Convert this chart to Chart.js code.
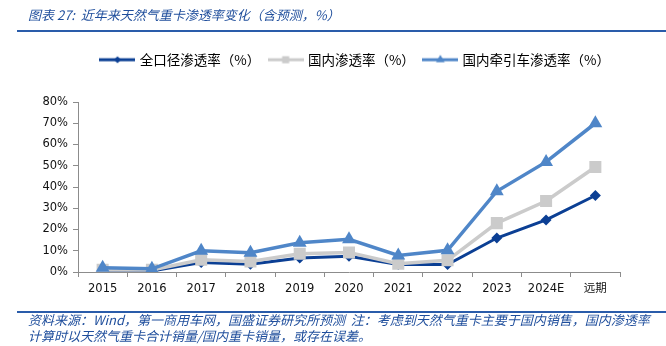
<!DOCTYPE html>
<html>
<head>
<meta charset="utf-8">
<script src="https://cdn.jsdelivr.net/npm/chart.js@4.4.1/dist/chart.umd.min.js"></script>
<style>
    html, body { margin: 0; padding: 0; background: #fff; }
    #wrap { position: relative; width: 666px; height: 346px; overflow: hidden; }
    #chart { position: absolute; left: 0; top: 0; }
    .title { position: absolute; left: 28px; top: 6px; font: italic 13px "Noto Sans CJK SC"; color: #1f4e9c; white-space: nowrap; line-height: 18px; }
    .rule { position: absolute; left: 17px; right: 0; height: 2px; background: #2a5caa; }
    .note { position: absolute; left: 28px; font: italic 13px "Noto Sans CJK SC"; color: #1f4e9c; white-space: nowrap; line-height: 16px; }
</style>
</head>
<body>
<div id="wrap">
    <canvas id="chart" width="666" height="346"></canvas>
    <div class="title">图表 27:&nbsp; 近年来天然气重卡渗透率变化（含预测，%）</div>
    <div class="rule" style="top:30px"></div>
    <div class="rule" style="top:311px"></div>
    <div class="note" style="top:312px">资料来源：Wind，第一商用车网，国盛证券研究所预测 &nbsp;注：考虑到天然气重卡主要于国内销售，国内渗透率</div>
    <div class="note" style="top:328px">计算时以天然气重卡合计销量/国内重卡销量，或存在误差。</div>
</div>
<script>
    // chart data (percent)
    const categories = ['2015', '2016', '2017', '2018', '2019', '2020', '2021', '2022', '2023', '2024E', '远期'];
    const allRate = [0.5, 0.5, 4.5, 3.6, 6.6, 7.4, 3.5, 3.5, 16, 24.5, 36];
    const domesticRate = [1, 1, 5.8, 4.9, 8.6, 9.2, 3.9, 5.5, 23, 33.4, 49.4];
    const tractorRate = [2, 1.5, 10, 9.1, 13.8, 15.4, 7.8, 10.2, 38, 51.8, 70];
    const seriesNames = ['全口径渗透率（%）', '国内渗透率（%）', '国内牵引车渗透率（%）'];

    const DARK = '#0b3f94';
    const GREY = '#cbcbcb';
    const BLUE = '#4f86c8';

    // small line + marker picture for each legend entry
    function legendIcon(color, style, radius) {
        const c = document.createElement('canvas');
        c.width = 36;
        c.height = 14;
        const ctx = c.getContext('2d');
        ctx.strokeStyle = color;
        ctx.lineWidth = 3;
        ctx.beginPath();
        ctx.moveTo(0, 7);
        ctx.lineTo(36, 7);
        ctx.stroke();
        ctx.fillStyle = color;
        Chart.helpers.drawPoint(ctx, {pointStyle: style, radius: radius, rotation: 0, borderWidth: 0}, 18, 7);
        return c;
    }
    const icons = [
        legendIcon(DARK, 'rectRot', 3.5),
        legendIcon(GREY, 'rect', 5),
        legendIcon(BLUE, 'triangle', 5)
    ];

    // keep the legend band a fixed height so the plot top lands where it should
    const legendBand = {
        id: 'legendBand',
        beforeLayout(chart) {
            const lg = chart.legend;
            if (lg && !lg._banded) {
                const fit = lg.fit;
                lg.fit = function () {
                    fit.call(this);
                    this.height = 59;
                };
                lg._banded = true;
            }
        }
    };

    new Chart(document.getElementById('chart'), {
        type: 'line',
        data: {
            labels: categories,
            datasets: [
                {
                    label: seriesNames[0],
                    data: allRate,
                    borderColor: DARK,
                    backgroundColor: DARK,
                    borderWidth: 3,
                    pointStyle: 'rectRot',
                    pointRadius: 5.5,
                    pointBorderWidth: 0,
                    order: 3
                },
                {
                    label: seriesNames[1],
                    data: domesticRate,
                    borderColor: GREY,
                    backgroundColor: GREY,
                    borderWidth: 3.5,
                    pointStyle: 'rect',
                    pointRadius: 8.5,
                    pointBorderWidth: 0,
                    order: 2
                },
                {
                    label: seriesNames[2],
                    data: tractorRate,
                    borderColor: BLUE,
                    backgroundColor: BLUE,
                    borderWidth: 3.5,
                    pointStyle: 'triangle',
                    pointRadius: 8,
                    pointBorderWidth: 0,
                    order: 1
                }
            ]
        },
        options: {
            responsive: false,
            animation: false,
            layout: {
                padding: {top: 43, left: 0, right: 46, bottom: 44}
            },
            plugins: {
                tooltip: {enabled: false},
                legend: {
                    display: true,
                    position: 'top',
                    align: 'end',
                    labels: {
                        usePointStyle: true,
                        pointStyleWidth: 31,
                        padding: 10,
                        color: '#000',
                        font: {family: '"Noto Sans CJK SC"', size: 13.5},
                        generateLabels: function (chart) {
                            return chart.data.datasets.map((ds, i) => ({
                                text: ds.label,
                                pointStyle: icons[i],
                                fillStyle: ds.borderColor,
                                strokeStyle: ds.borderColor,
                                lineWidth: 0,
                                hidden: false,
                                datasetIndex: i,
                                fontColor: '#000'
                            }));
                        }
                    }
                }
            },
            scales: {
                x: {
                    offset: true,
                    grid: {
                        display: true,
                        drawOnChartArea: false,
                        drawTicks: true,
                        tickLength: 5,
                        color: '#8c8c8c',
                        offset: true
                    },
                    border: {color: '#8c8c8c', width: 1},
                    ticks: {
                        color: '#111',
                        padding: 5,
                        maxRotation: 0,
                        autoSkip: false,
                        font: {family: '"DejaVu Sans", "Noto Sans CJK SC"', size: 11.5}
                    },
                    afterFit: function (scale) { scale.height = 30; }
                },
                y: {
                    min: 0,
                    max: 80,
                    grid: {
                        display: true,
                        drawOnChartArea: false,
                        drawTicks: true,
                        tickLength: 5,
                        color: '#8c8c8c'
                    },
                    border: {color: '#8c8c8c', width: 1},
                    ticks: {
                        stepSize: 10,
                        color: '#111',
                        padding: 5,
                        font: {family: '"DejaVu Sans"', size: 11.5},
                        callback: function (v) { return v + '%'; }
                    },
                    afterFit: function (scale) { scale.width = 78; }
                }
            }
        },
        plugins: [legendBand]
    });
</script>
</body>
</html>
